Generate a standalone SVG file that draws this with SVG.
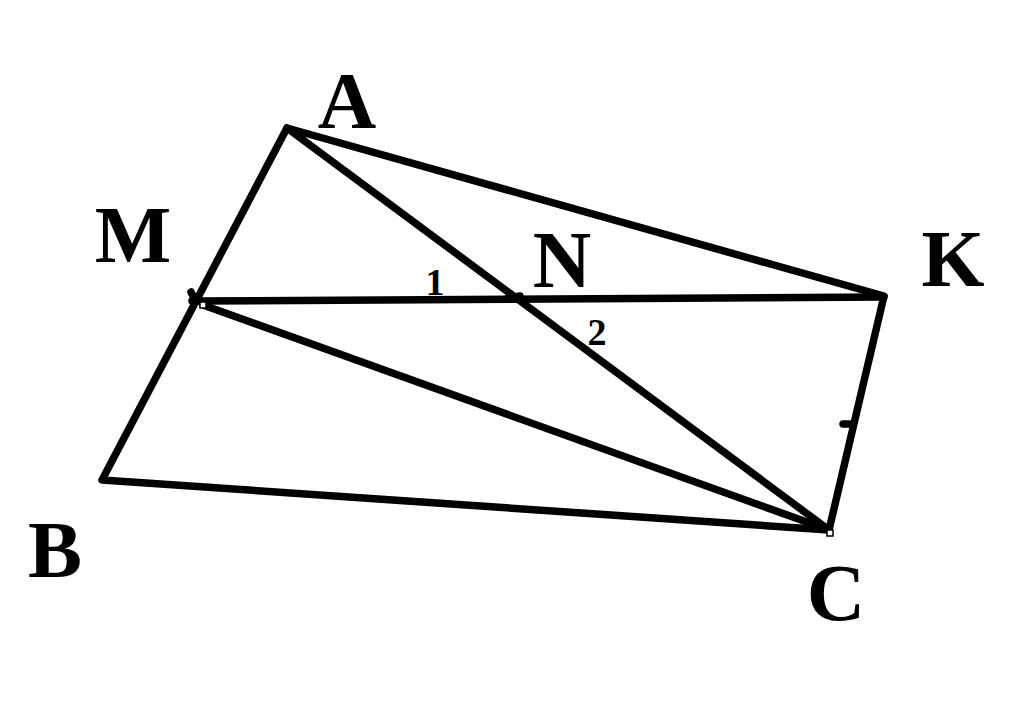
<svg xmlns="http://www.w3.org/2000/svg" width="1024" height="703" viewBox="0 0 1024 703">
<style>
.ln{stroke:#000;stroke-width:7.5;stroke-linecap:round;stroke-linejoin:round;fill:none}
.lb{font-family:"Liberation Serif","Times New Roman",serif;font-weight:bold;fill:#000;text-anchor:middle}
.big{font-size:81px}
.sm{font-size:38px}
.pt{fill:#fff;stroke:#000;stroke-width:1.5}
</style>
<rect width="1024" height="703" fill="#fff"/>
<g id="connectors">
<polyline class="ln" points="287,128 102,480 829,530 884,296 287,128"/>
<line class="ln" x1="287" y1="128" x2="829" y2="530"/>
<line class="ln" x1="192" y1="301" x2="884" y2="297"/>
<line class="ln" x1="203" y1="305" x2="829" y2="530"/>
<line class="ln" x1="843" y1="424" x2="851" y2="424"/>
<line class="ln" x1="191" y1="292" x2="193" y2="296"/>
<line class="ln" x1="508" y1="298" x2="520" y2="296"/>
</g>
<g id="node-A"><text class="lb big" x="347" y="128">A</text></g>
<g id="node-M"><text class="lb big" x="133" y="262">M</text><rect class="pt" x="200" y="302" width="6" height="6"/></g>
<g id="node-N"><text class="lb big" x="562" y="287">N</text></g>
<g id="node-K"><text class="lb big" x="953" y="286">K</text></g>
<g id="node-B"><text class="lb big" x="55" y="577">B</text></g>
<g id="node-C"><text class="lb big" x="836" y="620">C</text><rect class="pt" x="827" y="530" width="6" height="6"/></g>
<g id="angle-1"><text class="lb sm" x="435" y="295">1</text></g>
<g id="angle-2"><text class="lb sm" x="597" y="345">2</text></g>
</svg>
